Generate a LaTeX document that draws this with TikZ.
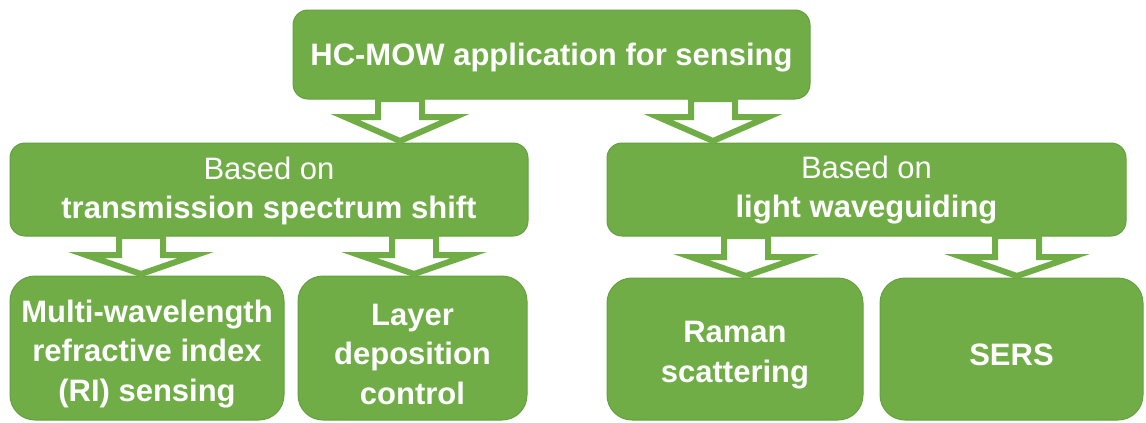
\documentclass[tikz,border=0pt]{standalone}
\usepackage{fontspec}
\setmainfont{Liberation Sans}
\usetikzlibrary{calc}
\definecolor{boxgreen}{HTML}{70AD47}
\definecolor{boxedge}{HTML}{64A03F}
\tikzset{
  box/.style={draw=boxedge, line width=1pt, fill=boxgreen, inner sep=0pt, outer sep=0pt},
  topbox/.style={box, rounded corners=15pt},
  midbox/.style={box, rounded corners=15pt},
  leafbox/.style={box, rounded corners=25pt},
  boxtext/.style={text=white, align=center, inner sep=0pt,
    font=\fontsize{31}{39}\selectfont\bfseries},
  leaftext/.style={boxtext, yshift=-6pt, font=\fontsize{31}{39.5}\selectfont\bfseries},
  barrow/.style={draw=boxgreen, fill=white, line width=6pt, line join=miter}
}
% #1 x-coordinate, #2 upper node, #3 lower node, #4 head height
\newcommand{\blockarrow}[4]{%
  \draw[barrow] let \p0=(#1), \p1=(#2.south), \p2=(#3.north) in
    (\x0-22pt,\y1) -- (\x0-22pt,\y2+#4) -- (\x0-55pt,\y2+#4) -- (\x0,\y2+2pt)
    -- (\x0+55pt,\y2+#4) -- (\x0+22pt,\y2+#4) -- (\x0+22pt,\y1) -- cycle;}
\begin{document}
\begin{tikzpicture}[x=1pt,y=-1pt]
\useasboundingbox (0,0) rectangle (1146,423);
\node[topbox, minimum width=517pt, minimum height=89pt,
  label={[boxtext, yshift=-3pt]center:{HC-MOW application for sensing}}] (top) at (551.5,54.5) {};
\node[midbox, minimum width=518pt, minimum height=93pt,
  label={[boxtext, yshift=-1pt]center:{\mdseries Based on\\transmission spectrum shift}}] (ml) at (269,189.5) {};
\node[midbox, minimum width=519pt, minimum height=93pt,
  label={[boxtext, yshift=-1pt]center:{\mdseries Based on\\light waveguiding}}] (mr) at (866.5,189.5) {};
\node[leafbox, minimum width=274pt, minimum height=144pt,
  label={[leaftext]center:{Multi-wavelength\\refractive index\\(RI) sensing}}] (b1) at (147,348) {};
\node[leafbox, minimum width=229pt, minimum height=144pt,
  label={[leaftext]center:{Layer\\deposition\\control}}] (b2) at (412.5,348) {};
\node[leafbox, minimum width=256pt, minimum height=142pt,
  label={[leaftext]center:{Raman\\scattering}}] (b3) at (735,349) {};
\node[leafbox, minimum width=263pt, minimum height=142pt,
  label={[leaftext]center:{SERS}}] (b4) at (1011.5,349) {};
\coordinate (a1) at (400,0);
\coordinate (a2) at (713,0);
\coordinate (a3) at (141,0);
\coordinate (a4) at (414,0);
\coordinate (a5) at (746,0);
\coordinate (a6) at (1017,0);
\blockarrow{a1}{top}{ml}{26pt}
\blockarrow{a2}{top}{mr}{26pt}
\blockarrow{a3}{ml}{b1}{21pt}
\blockarrow{a4}{ml}{b2}{21pt}
\blockarrow{a5}{mr}{b3}{21pt}
\blockarrow{a6}{mr}{b4}{21pt}
\end{tikzpicture}
\end{document}
